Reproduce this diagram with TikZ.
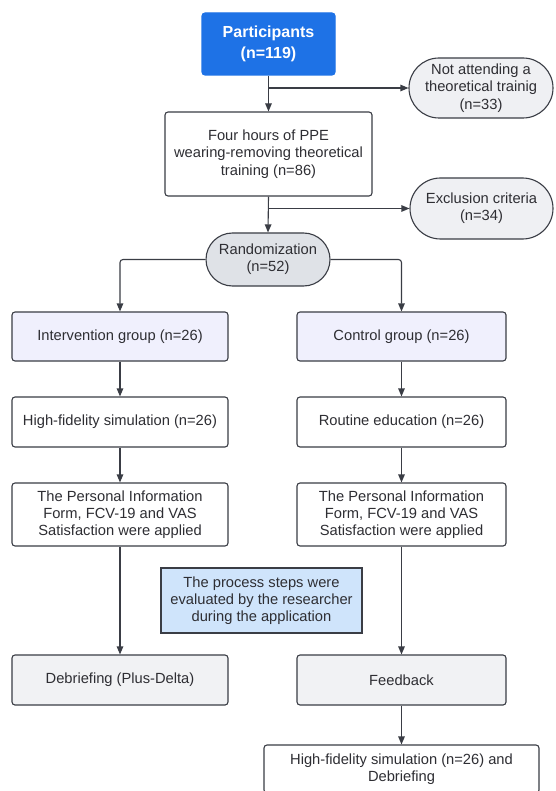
\documentclass[tikz,border=0pt]{standalone}
\usepackage{fontspec}
\setmainfont{Liberation Sans}
\usetikzlibrary{arrows.meta,shapes.misc}
\definecolor{partblue}{HTML}{1E72E6}
\definecolor{edge}{HTML}{3A3D45}
\definecolor{txt}{HTML}{2E2E33}
\definecolor{grayfill}{HTML}{EFF0F3}
\definecolor{randfill}{HTML}{DFE2E7}
\definecolor{lavender}{HTML}{F0F0FD}
\definecolor{notefill}{HTML}{CFE4FB}
\definecolor{boxgray}{HTML}{F1F2F4}
\tikzset{
  base/.style={draw=edge, line width=1.1pt, text=txt, align=center, inner sep=2pt,
    font=\fontsize{14.7}{17.3}\selectfont},
  sbox/.style={base, rectangle, rounded corners=3pt},
  pill/.style={base, rounded rectangle, fill=grayfill},
  conn/.style={draw=edge, line width=1.1pt, -{Triangle[length=8pt,width=6.5pt]}},
}
\begin{document}
\begin{tikzpicture}[x=1pt,y=-1pt]
\fill[white] (0,0) rectangle (555,791);
\useasboundingbox (0,0) rectangle (555,791);

\node[sbox, fill=partblue, draw=partblue, text=white, minimum width=133pt, minimum height=62pt,
  font=\fontsize{16}{21.5}\selectfont\bfseries] (part) at (268.5,44) {Participants\\(n=119)};
\node[pill, minimum width=148pt, minimum height=60pt] (notatt) at (481,88) {Not attending a\\theoretical trainig\\(n=33)};
\node[sbox, fill=white, minimum width=207pt, minimum height=84pt] (four) at (268.5,154) {Four hours of PPE\\wearing-removing theoretical\\training (n=86)};
\node[pill, minimum width=147pt, minimum height=61pt] (excl) at (481.5,208.5) {Exclusion criteria\\(n=34)};
\node[pill, fill=randfill, minimum width=128pt, minimum height=53pt] (rand) at (268,259.5) {Randomization\\(n=52)};

\node[sbox, fill=lavender, minimum width=216pt, minimum height=49pt] (int) at (120,336.5) {Intervention group (n=26)};
\node[sbox, fill=lavender, minimum width=209pt, minimum height=49pt] (ctrl) at (401.5,336.5) {Control group (n=26)};
\node[sbox, fill=white, minimum width=216pt, minimum height=50pt] (hf) at (120,422) {High-fidelity simulation (n=26)};
\node[sbox, fill=white, minimum width=209pt, minimum height=50pt] (rout) at (401.5,422) {Routine education (n=26)};
\node[sbox, fill=white, minimum width=216pt, minimum height=63pt] (pi1) at (120,514.5) {The Personal Information\\Form, FCV-19 and VAS\\Satisfaction were applied};
\node[sbox, fill=white, minimum width=209pt, minimum height=63pt] (pi2) at (401.5,514.5) {The Personal Information\\Form, FCV-19 and VAS\\Satisfaction were applied};
\node[base, rectangle, fill=notefill, minimum width=201pt, minimum height=65pt] (note) at (261.5,600.5) {The process steps were\\evaluated by the researcher\\during the application};
\node[sbox, fill=boxgray, minimum width=216pt, minimum height=50pt] (deb) at (120,680) {Debriefing (Plus-Delta)};
\node[sbox, fill=boxgray, minimum width=209pt, minimum height=50pt] (feed) at (401.5,680) {Feedback};
\node[sbox, fill=white, minimum width=275pt, minimum height=48pt] (final) at (401.5,769) {High-fidelity simulation (n=26) and\\Debriefing};

\draw[conn] (part.south) -- (four.north);
\draw[conn] (part.south |- notatt.west) -- (notatt.west);
\draw[conn] (four.south) -- (rand.north);
\draw[conn] (four.south |- excl.west) -- (excl.west);
\draw[conn, rounded corners=3pt] (rand.west) -| (int.north);
\draw[conn, rounded corners=3pt] (rand.east) -| (ctrl.north);
\draw[conn] (int.south) -- (hf.north);
\draw[conn] (hf.south) -- (pi1.north);
\draw[conn] (pi1.south) -- (deb.north);
\draw[conn] (ctrl.south) -- (rout.north);
\draw[conn] (rout.south) -- (pi2.north);
\draw[conn] (pi2.south) -- (feed.north);
\draw[conn] (feed.south) -- (final.north);
\end{tikzpicture}
\end{document}
